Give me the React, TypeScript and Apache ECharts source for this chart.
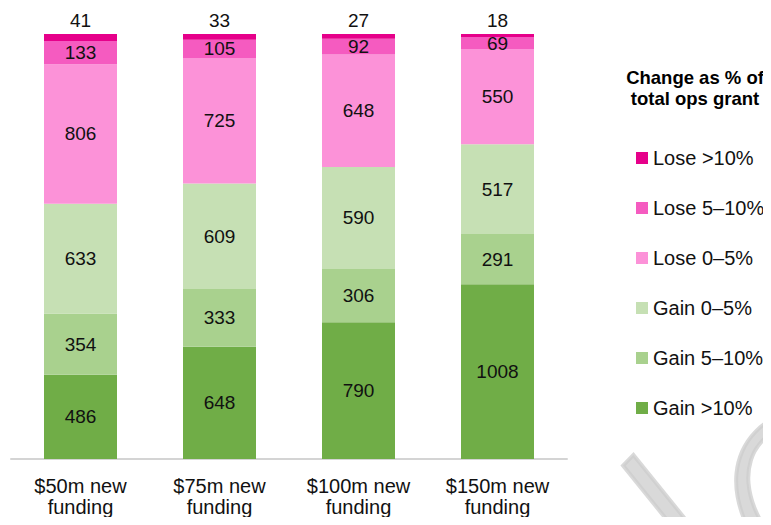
import React, { useEffect, useRef } from "react";
import * as echarts from "echarts";

const categories = ["$50m new\nfunding", "$75m new\nfunding", "$100m new\nfunding", "$150m new\nfunding"];
const seriesNames = ["Gain >10%", "Gain 5–10%", "Gain 0–5%", "Lose 0–5%", "Lose 5–10%", "Lose >10%"];
const gainOver10 = [486, 648, 790, 1008];
const gain5to10 = [354, 333, 306, 291];
const gain0to5 = [633, 609, 590, 517];
const lose0to5 = [806, 725, 648, 550];
const lose5to10 = [133, 105, 92, 69];
const loseOver10 = [41, 33, 27, 18];
const seriesValues = [gainOver10, gain5to10, gain0to5, lose0to5, lose5to10, loseOver10];
const seriesColors = ["#70ad47", "#a9d18e", "#c6e0b4", "#fc92d8", "#f55bc0", "#e6008a"];
const legendOrder = ["Lose >10%", "Lose 5–10%", "Lose 0–5%", "Gain 0–5%", "Gain 5–10%", "Gain >10%"];
const legendTitle = "Change as % of\ntotal ops grant";
const watermark = "Sample";

const FONT = 'Arial, "Liberation Sans", sans-serif';

export default function App() {
  const ref = useRef<HTMLDivElement>(null);
  useEffect(() => {
    if (!ref.current) return;
    const chart = echarts.init(ref.current, undefined, { renderer: "svg" });
    const total = gainOver10[0] + gain5to10[0] + gain0to5[0] + lose0to5[0] + lose5to10[0] + loseOver10[0];
    const series = seriesNames.map((name, i) => ({
      name,
      type: "bar",
      stack: "all",
      barWidth: 73,
      data: seriesValues[i],
      itemStyle: { color: seriesColors[i] },
      label: {
        show: true,
        position: i === seriesNames.length - 1 ? "top" : "inside",
        distance: 4,
        fontSize: 19,
        fontFamily: FONT,
        color: "#111",
      },
      emphasis: { disabled: true },
    }));
    chart.setOption({
      animation: false,
      backgroundColor: "#fff",
      grid: { left: 11, right: 204, top: 34, bottom: 66, containLabel: false },
      xAxis: {
        type: "category",
        data: categories,
        axisLine: { lineStyle: { color: "#d4d4d4", width: 2 } },
        axisTick: { show: false },
        axisLabel: { fontSize: 20, lineHeight: 21, color: "#111", fontFamily: FONT, margin: 16 },
      },
      yAxis: { type: "value", min: 0, max: total, show: false, splitLine: { show: false } },
      legend: {
        orient: "vertical",
        left: 631,
        top: 143,
        itemWidth: 12,
        itemHeight: 12,
        itemGap: 30,
        icon: "rect",
        data: legendOrder,
        selectedMode: false,
        textStyle: { fontSize: 20, lineHeight: 20, color: "#111", fontFamily: FONT },
      },
      graphic: [
        {
          type: "text",
          x: 695,
          y: 67,
          silent: true,
          style: {
            text: legendTitle,
            textAlign: "center",
            textVerticalAlign: "top",
            fontSize: 18.5,
            fontWeight: "bold",
            lineHeight: 21,
            fontFamily: FONT,
            fill: "#000",
          },
        },
        {
          type: "group",
          x: 161,
          y: 1097,
          rotation: 0.8,
          silent: true,
          z: 100,
          children: [
            {
              type: "text",
              x: 0,
              y: 0,
              z: 100,
              style: {
                text: watermark,
                textAlign: "left",
                textVerticalAlign: "middle",
                fontSize: 320,
                fontWeight: 300,
                fontStyle: "italic",
                fontFamily: 'Lato, "Roboto", sans-serif',
                fill: "rgba(204,204,204,0.75)",
                stroke: "rgba(204,204,204,0.75)",
                lineWidth: 4,
              },
            },
          ],
        },
      ],
      series,
    });
    return () => chart.dispose();
  }, []);
  return <div ref={ref} style={{ width: 771, height: 525, margin: -8 }} />;
}
